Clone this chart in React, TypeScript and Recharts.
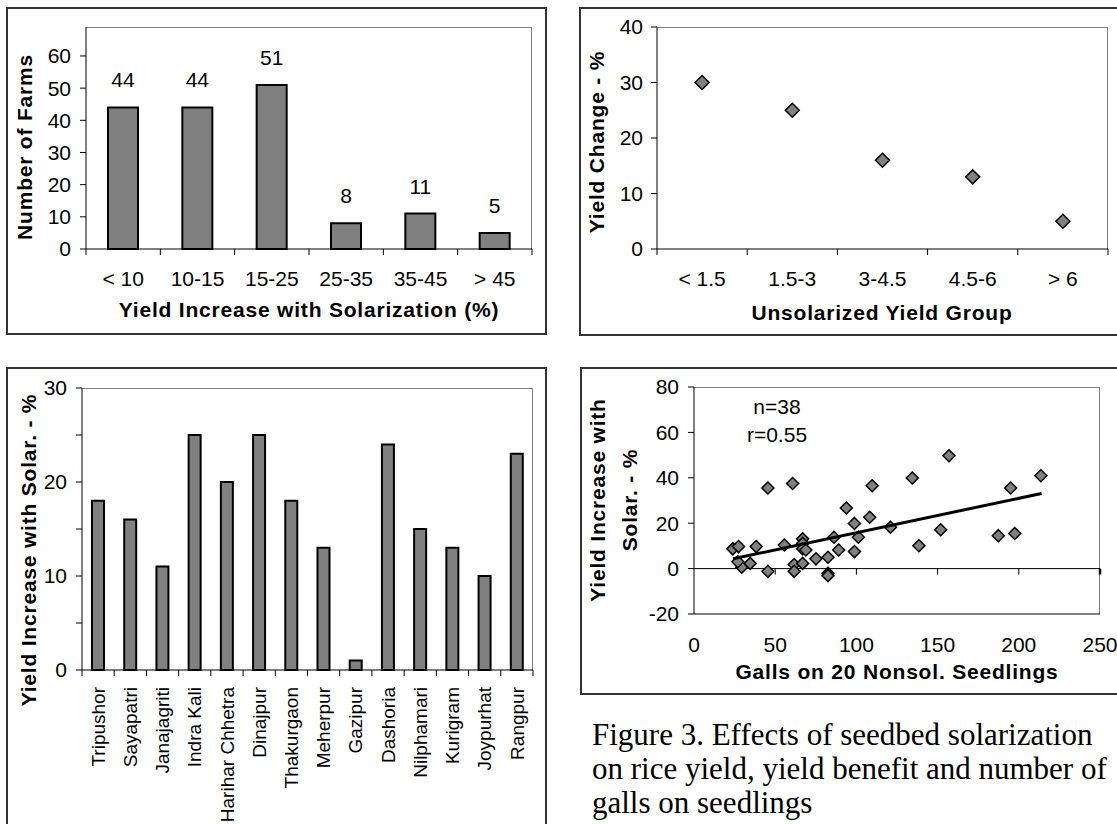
import React from 'react';
import {
  BarChart,
  Bar,
  XAxis,
  YAxis,
  LabelList,
  LineChart,
  Line,
  ScatterChart,
  Scatter,
  ReferenceLine,
} from 'recharts';

// top left: farms by yield increase class
const farmGroups = ['< 10', '10-15', '15-25', '25-35', '35-45', '> 45'];
const farmCounts = [44, 44, 51, 8, 11, 5];
const farmTicks = [0, 10, 20, 30, 40, 50, 60];

// top right: yield change by unsolarized yield group
const yieldGroups = ['< 1.5', '1.5-3', '3-4.5', '4.5-6', '> 6'];
const yieldChange = [30, 25, 16, 13, 5];
const changeTicks = [0, 10, 20, 30, 40];

// bottom left: yield increase per location
const locations = [
  'Tripushor', 'Sayapatri', 'Janajagriti', 'Indra Kali', 'Harihar Chhetra', 'Dinajpur', 'Thakurgaon',
  'Meherpur', 'Gazipur', 'Dashoria', 'Nilphamari', 'Kurigram', 'Joypurhat', 'Rangpur',
];
const locationIncrease = [18, 16, 11, 25, 20, 25, 18, 13, 1, 24, 15, 13, 10, 23];
const locationTicks = [0, 5, 10, 15, 20, 25, 30];

// bottom right: galls vs yield increase
const galls = [
  23.9, 27.4, 29.4, 27, 34.6, 38.3, 45.5, 45.5, 55.6, 60.7, 61.7, 61.7, 66.9, 66.9, 66.9, 68.9, 66.9, 75.1, 82.5,
  82.5, 82.5, 86.2, 89.1, 93.8, 98.8, 98.8, 101.2, 108.2, 109.7, 121, 134.4, 138.5, 151.9, 157, 187.4, 195, 197.5, 213.6,
];
const gallYield = [
  8.7, 9.7, 0.6, 3, 2.3, 9.7, -1.2, 35.5, 10.4, 37.5, 1.8, -1.2, 13.1, 11.1, 8.7, 8.2, 2.3, 4.3, 5.0,
  -2.1, -3.1, 13.8, 8.2, 26.7, 19.9, 7.5, 13.8, 22.6, 36.5, 18.2, 39.9, 10.1, 17.1, 49.7, 14.5, 35.5, 15.5, 40.9,
];
const trendX = [24, 214];
const trendY = [4.3, 33.1];
const gallXTicks = [0, 50, 100, 150, 200, 250];
const gallYTicks = [-20, 0, 20, 40, 60, 80];

const farmData = farmGroups.map((g, i) => ({ group: g, farms: farmCounts[i] }));
const changeData = yieldGroups.map((g, i) => ({ group: g, change: yieldChange[i] }));
const locationData = locations.map((l, i) => ({ loc: l, inc: locationIncrease[i] }));
const gallData = galls.map((g, i) => ({ x: g, y: gallYield[i] }));
const trendData = trendX.map((x, i) => ({ x, y: trendY[i] }));

const FONT = '"Liberation Sans", Arial, sans-serif';
const GREY = '#808080';

const Diamond = ({ cx, cy, r }: { cx?: number; cy?: number; r: number }) => {
  if (cx == null || cy == null) return null;
  return (
    <polygon
      points={`${cx},${cy - r} ${cx + r},${cy} ${cx},${cy + r} ${cx - r},${cy}`}
      fill={GREY}
      stroke="#000"
      strokeWidth={1.5}
    />
  );
};

// x tick with tick marks on category boundaries (Excel style)
const makeCategoryTick = (band: number, count: number, dy: number) => (props: any) => {
  const { x, y, payload, index } = props;
  return (
    <g>
      <line x1={x - band / 2} y1={y} x2={x - band / 2} y2={y + 6} stroke="#000" />
      {index === count - 1 && <line x1={x + band / 2} y1={y} x2={x + band / 2} y2={y + 6} stroke="#000" />}
      <text x={x} y={y + dy} dy="0.35em" textAnchor="middle" fontSize={21} fill="#000" fontFamily={FONT}>
        {payload.value}
      </text>
    </g>
  );
};

const makeRotatedTick = (band: number, count: number) => (props: any) => {
  const { x, y, payload, index } = props;
  return (
    <g>
      <line x1={x - band / 2} y1={y} x2={x - band / 2} y2={y + 6} stroke="#000" />
      {index === count - 1 && <line x1={x + band / 2} y1={y} x2={x + band / 2} y2={y + 6} stroke="#000" />}
      <text
        x={0}
        y={0}
        dy="0.35em"
        textAnchor="end"
        fontSize={19}
        fill="#000"
        fontFamily={FONT}
        transform={`translate(${x},${y + 17}) rotate(-90)`}
      >
        {payload.value}
      </text>
    </g>
  );
};

const makeGallTick = (zeroOffset: number) => (props: any) => {
  const { x, y, payload } = props;
  return (
    <g>
      {payload.value !== 0 && (
        <line
          x1={x}
          y1={y - zeroOffset}
          x2={x}
          y2={y - zeroOffset + 6}
          stroke="#000"
          strokeWidth={payload.value === 250 ? 2.5 : 1}
        />
      )}
      <text x={x} y={y + 31} dy="0.35em" textAnchor="middle" fontSize={21} fill="#000" fontFamily={FONT}>
        {payload.value}
      </text>
    </g>
  );
};

const Frame = ({ left, top, width, height }: { left: number; top: number; width: number; height: number }) => (
  <div style={{ position: 'absolute', left, top, width, height, border: '2px solid #333', boxSizing: 'border-box' }} />
);

const PlotBorder = ({ left, top, width, height }: { left: number; top: number; width: number; height: number }) => (
  <div
    style={{
      position: 'absolute',
      left,
      top,
      width,
      height,
      borderTop: `1px solid ${GREY}`,
      borderRight: `1px solid ${GREY}`,
      boxSizing: 'border-box',
    }}
  />
);

const Title = ({
  x,
  y,
  text,
  rotate = false,
  bold = true,
  size = 21,
  lineHeight,
}: {
  x: number;
  y: number;
  text: string;
  rotate?: boolean;
  bold?: boolean;
  size?: number;
  lineHeight?: number;
}) => (
  <div
    style={{
      position: 'absolute',
      left: x,
      top: y,
      transform: `translate(-50%, -50%)${rotate ? ' rotate(-90deg)' : ''}`,
      whiteSpace: 'pre',
      textAlign: 'center',
      fontSize: size,
      fontWeight: bold ? 700 : 400,
      letterSpacing: bold ? 0.8 : 0,
      lineHeight: lineHeight ? `${lineHeight}px` : 'normal',
      color: '#000',
      fontFamily: FONT,
    }}
  >
    {text}
  </div>
);

const yTick = { fontSize: 21, fill: '#000', fontFamily: FONT };

export default function App() {
  return (
    <div
      style={{
        position: 'absolute',
        left: 0,
        top: 0,
        width: 1117,
        height: 824,
        overflow: 'hidden',
        background: '#fff',
        fontFamily: FONT,
      }}
    >
      <Frame left={6} top={7} width={541} height={328} />
      <Frame left={579} top={7} width={560} height={329} />
      <Frame left={6} top={367} width={541} height={470} />
      <Frame left={580} top={367} width={560} height={328} />

      <PlotBorder left={86} top={27} width={446} height={222} />
      <PlotBorder left={657} top={27} width={451} height={222} />
      <PlotBorder left={82} top={388} width={451} height={282} />
      <PlotBorder left={694} top={387} width={406} height={227} />

      {/* number of farms */}
      <div style={{ position: 'absolute', left: 6, top: 7 }}>
        <BarChart width={541} height={328} data={farmData} margin={{ top: 20, right: 15, bottom: 0, left: 0 }}>
          <XAxis
            dataKey="group"
            height={86}
            interval={0}
            tickSize={0}
            tickMargin={0}
            tickLine={false}
            axisLine={{ stroke: '#000' }}
            tick={makeCategoryTick(446 / 6, 6, 30)}
          />
          <YAxis
            width={80}
            domain={[0, 69]}
            ticks={farmTicks}
            tickSize={6}
            tickMargin={9}
            axisLine={{ stroke: '#000' }}
            tickLine={{ stroke: '#000' }}
            tick={yTick}
          />
          <Bar dataKey="farms" barSize={30} fill={GREY} stroke="#000" strokeWidth={2} isAnimationActive={false}>
            <LabelList dataKey="farms" position="top" offset={20} fontSize={21} fill="#000" fontFamily={FONT} />
          </Bar>
        </BarChart>
      </div>

      {/* yield change by group */}
      <div style={{ position: 'absolute', left: 579, top: 7 }}>
        <LineChart width={538} height={329} data={changeData} margin={{ top: 20, right: 9, bottom: 0, left: 0 }}>
          <XAxis
            dataKey="group"
            height={87}
            interval={0}
            padding={{ left: 451 / 10, right: 451 / 10 }}
            tickSize={0}
            tickMargin={0}
            tickLine={false}
            axisLine={{ stroke: '#000' }}
            tick={makeCategoryTick(451 / 5, 5, 30)}
          />
          <YAxis
            width={78}
            domain={[0, 40]}
            ticks={changeTicks}
            tickSize={6}
            tickMargin={8}
            axisLine={{ stroke: '#000' }}
            tickLine={{ stroke: '#000' }}
            tick={yTick}
          />
          <Line
            dataKey="change"
            stroke="none"
            isAnimationActive={false}
            activeDot={false}
            dot={(p: any) => <Diamond key={p.index} cx={p.cx} cy={p.cy} r={7} />}
          />
        </LineChart>
      </div>

      {/* yield increase per location */}
      <div style={{ position: 'absolute', left: 6, top: 367 }}>
        <BarChart width={541} height={457} data={locationData} margin={{ top: 21, right: 14, bottom: 0, left: 0 }}>
          <XAxis
            dataKey="loc"
            height={154}
            interval={0}
            tickSize={0}
            tickMargin={0}
            tickLine={false}
            axisLine={{ stroke: '#000' }}
            tick={makeRotatedTick(451 / 14, 14)}
          />
          <YAxis
            width={76}
            domain={[0, 30]}
            ticks={locationTicks}
            tickFormatter={(v: number) => (v % 10 === 0 ? String(v) : '')}
            tickSize={6}
            tickMargin={9}
            axisLine={{ stroke: '#000' }}
            tickLine={{ stroke: '#000' }}
            tick={yTick}
          />
          <Bar dataKey="inc" barSize={12} fill={GREY} stroke="#000" strokeWidth={2} isAnimationActive={false} />
        </BarChart>
      </div>

      {/* galls vs yield increase */}
      <div style={{ position: 'absolute', left: 580, top: 367 }}>
        <ScatterChart width={537} height={328} margin={{ top: 20, right: 17, bottom: 0, left: 0 }}>
          <XAxis
            type="number"
            dataKey="x"
            domain={[0, 250]}
            ticks={gallXTicks}
            height={81}
            interval={0}
            tickSize={0}
            tickMargin={0}
            tickLine={false}
            axisLine={{ stroke: '#000' }}
            tick={makeGallTick(227 * 0.2)}
          />
          <YAxis
            type="number"
            dataKey="y"
            width={114}
            domain={[-20, 80]}
            ticks={gallYTicks}
            tickSize={6}
            tickMargin={9}
            axisLine={{ stroke: '#000' }}
            tickLine={{ stroke: '#000' }}
            tick={yTick}
          />
          <ReferenceLine y={0} stroke="#000" strokeWidth={1} />
          <Scatter
            data={gallData}
            isAnimationActive={false}
            shape={(p: any) => <Diamond cx={p.cx} cy={p.cy} r={6} />}
          />
          <Scatter
            data={trendData}
            isAnimationActive={false}
            line={{ stroke: '#000', strokeWidth: 3 }}
            shape={() => <g />}
          />
        </ScatterChart>
      </div>

      <Title x={25} y={147} text="Number of Farms" rotate />
      <Title x={309} y={310} text="Yield Increase with Solarization (%)" />
      <Title x={597} y={142} text="Yield Change - %" rotate />
      <Title x={882} y={313} text="Unsolarized Yield Group" />
      <Title x={29} y={550} text="Yield Increase with Solar. - %" rotate />
      <Title x={614} y={500} text={'Yield Increase with\nSolar. - %'} rotate lineHeight={32} />
      <Title x={897} y={672} text="Galls on 20 Nonsol. Seedlings" />
      <Title x={777} y={407} text="n=38" bold={false} />
      <Title x={777} y={435} text="r=0.55" bold={false} />

      <div
        style={{
          position: 'absolute',
          left: 592,
          top: 718,
          fontFamily: '"Liberation Serif", "Times New Roman", serif',
          fontSize: 31,
          lineHeight: '34px',
          whiteSpace: 'pre',
          color: '#000',
        }}
      >
        {'Figure 3. Effects of seedbed solarization\non rice yield, yield benefit and number of\ngalls on seedlings'}
      </div>
    </div>
  );
}
